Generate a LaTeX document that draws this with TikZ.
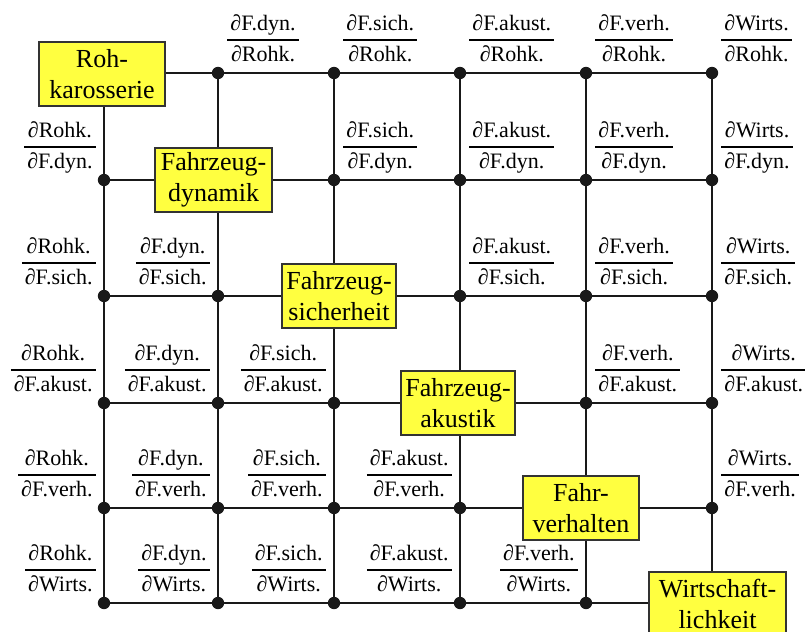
\documentclass[tikz,border=0pt]{standalone}
\usepackage{fontspec}
\setmainfont{LiberationSerif}[Extension=.ttf,UprightFont=*-Regular,BoldFont=*-Bold]
\usetikzlibrary{positioning}
\definecolor{boxyellow}{RGB}{255,255,64}
\definecolor{gridline}{RGB}{25,25,25}
\setlength{\arrayrulewidth}{0.7pt}
\newcommand{\pd}[2]{\renewcommand{\arraystretch}{1.15}%
  \begin{tabular}{@{\hspace{1.5pt}}c@{\hspace{1.5pt}}}∂#1\\\hline ∂#2\end{tabular}}
\tikzset{
  block/.style={draw=black!80,line width=0.8pt,fill=boxyellow,align=center,
    font=\fontsize{13}{15.5}\selectfont,inner sep=1pt,minimum height=32pt},
  jdot/.style={circle,fill=gridline,inner sep=0pt,minimum size=6.2pt},
  pdlabel/.style={inner sep=0pt,font=\fontsize{11}{13}\selectfont},
  link/.style={gridline,line width=1pt},
}
\begin{document}
\begin{tikzpicture}[x=0.5pt,y=-0.5pt]
  \useasboundingbox (0,0) rectangle (805,632);
  % grid points
  \foreach \i/\y in {1/73,2/180,3/296,4/403,5/508,6/603}
    \foreach \j/\x in {1/104,2/218,3/334,4/460,5/586,6/712}
      \coordinate (p-\i-\j) at (\x,\y);
  % rows and columns
  \foreach \k in {1,...,6}{
    \draw[link] (p-\k-1) -- (p-\k-6);
    \draw[link] (p-1-\k) -- (p-6-\k);
  }
  % diagonal
  \node[block,minimum width=63pt,xshift=-1pt,yshift=-0.5pt] (rohk) at (p-1-1) {Roh-\\karosserie};
  \node[block,minimum width=58.5pt,xshift=-2.25pt] (dyn) at (p-2-2) {Fahrzeug-\\dynamik};
  \node[block,minimum width=57pt,xshift=2.5pt] (sich) at (p-3-3) {Fahrzeug-\\sicherheit};
  \node[block,minimum width=57pt,xshift=-1pt] (akust) at (p-4-4) {Fahrzeug-\\akustik};
  \node[block,minimum width=58pt,xshift=-2.5pt] (verh) at (p-5-5) {Fahr-\\verhalten};
  \node[block,minimum width=68.5pt,xshift=2.75pt,yshift=-0.5pt] (wirts) at (p-6-6) {Wirtschaft-\\lichkeit};
  % couplings
  \foreach \i/\ni in {1/Rohk.,2/F.dyn.,3/F.sich.,4/F.akust.,5/F.verh.,6/Wirts.}
    \foreach \j/\nj in {1/Rohk.,2/F.dyn.,3/F.sich.,4/F.akust.,5/F.verh.,6/Wirts.}{
      \ifnum\i=\j\else
        \node[jdot] (d-\i-\j) at (p-\i-\j) {};
      \fi
      \ifnum\i<\j
        \node[pdlabel,anchor=south west,xshift=4.5pt,yshift=1pt] (l-\i-\j) at (p-\i-\j) {\pd{\nj}{\ni}};
      \fi
      \ifnum\i>\j
        \node[pdlabel,anchor=south east,xshift=-4pt,yshift=1pt] (l-\i-\j) at (p-\i-\j) {\pd{\nj}{\ni}};
      \fi
    }
\end{tikzpicture}
\end{document}
